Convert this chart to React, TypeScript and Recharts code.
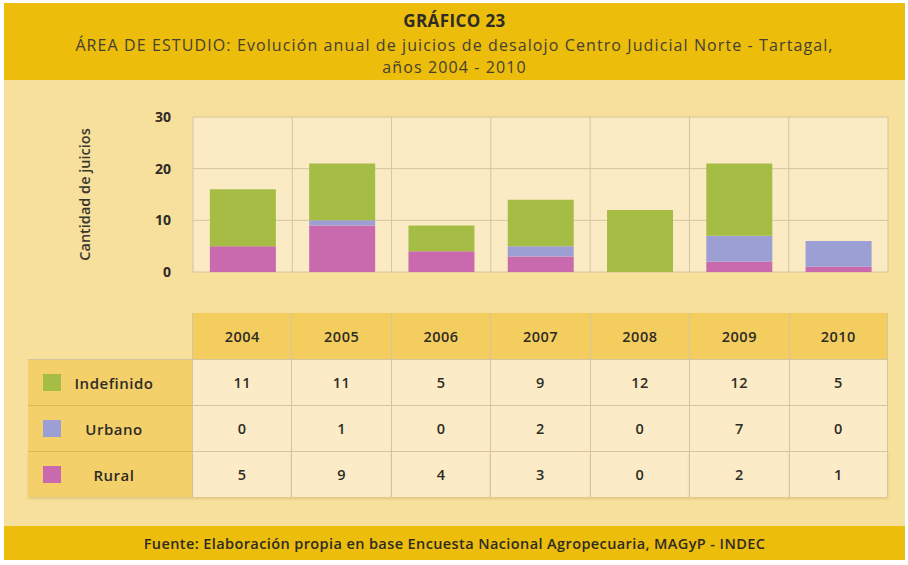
import { Bar, BarChart, CartesianGrid, Label, XAxis, YAxis } from "recharts";

const years = ["2004", "2005", "2006", "2007", "2008", "2009", "2010"];

// values printed in the table
const indefinido = [11, 11, 5, 9, 12, 12, 5];
const urbano = [0, 1, 0, 2, 0, 7, 0];
const rural = [5, 9, 4, 3, 0, 2, 1];

// segments as drawn in the printed bars (2009 and 2010 differ from the table)
const barIndefinido = [11, 11, 5, 9, 12, 14, 0];
const barUrbano = [0, 1, 0, 2, 0, 5, 5];
const barRural = [5, 9, 4, 3, 0, 2, 1];

const yTicks = [0, 10, 20, 30];

const GREEN = "#a6bd45";
const BLUE = "#9c9fd3";
const PINK = "#c96aae";

const chartData = years.map((year, i) => ({
    year,
    indefinido: barIndefinido[i],
    urbano: barUrbano[i],
    rural: barRural[i],
}));

const tableRows = [
    { name: "Indefinido", color: GREEN, values: indefinido },
    { name: "Urbano", color: BLUE, values: urbano },
    { name: "Rural", color: PINK, values: rural },
];

const font = "'Open Sans', 'Noto Sans', sans-serif";
const lineColor = "#d6c4a0";

export default function App() {
    return (
        <div
            style={{
                position: "absolute",
                left: 0,
                top: 0,
                width: 908,
                height: 565,
                background: "#fff",
                fontFamily: font,
            }}
        >
            <div
                style={{
                    position: "absolute",
                    left: 4,
                    top: 3,
                    width: 901,
                    height: 557,
                    background: "#f7df9c",
                }}
            >
                {/* header band */}
                <div
                    style={{
                        position: "absolute",
                        left: 0,
                        top: 0,
                        width: 901,
                        height: 77,
                        background: "#ecbd0b",
                        textAlign: "center",
                        color: "#454032",
                    }}
                >
                    <div style={{ position: "absolute", top: 6, width: "100%", fontSize: 17, lineHeight: "24px", fontWeight: 700, letterSpacing: 0.4, color: "#2e2b24" }}>
                        GRÁFICO 23
                    </div>
                    <div style={{ position: "absolute", top: 31, width: "100%", fontSize: 16, lineHeight: "22px", letterSpacing: 1.1 }}>
                        ÁREA DE ESTUDIO: Evolución anual de juicios de desalojo Centro Judicial Norte - Tartagal,
                        <br />
                        años 2004 - 2010
                    </div>
                </div>

                {/* footer band */}
                <div
                    style={{
                        position: "absolute",
                        left: 0,
                        top: 523,
                        width: 901,
                        height: 34,
                        background: "#ecbd0b",
                        textAlign: "center",
                        lineHeight: "36px",
                        fontSize: 14.5,
                        fontWeight: 600,
                        letterSpacing: 0.4,
                        color: "#2e2b24",
                    }}
                >
                    Fuente: Elaboración propia en base Encuesta Nacional Agropecuaria, MAGyP - INDEC
                </div>
            </div>

            {/* chart */}
            <div style={{ position: "absolute", left: 0, top: 100 }}>
                <BarChart
                    width={908}
                    height={185}
                    data={chartData}
                    margin={{ top: 17, right: 20, left: 0, bottom: 13 }}
                    barCategoryGap="17%"
                >
                    <CartesianGrid
                        stroke={lineColor}
                        fill="#faebc4"
                        fillOpacity={1}
                        verticalCoordinatesGenerator={({ offset }: any) =>
                            [...years, ""].map((_, i) => offset.left + (i * offset.width) / years.length)
                        }
                    />
                    <XAxis dataKey="year" hide />
                    <YAxis
                        width={193}
                        domain={[0, 30]}
                        ticks={yTicks}
                        axisLine={false}
                        tickLine={false}
                        tickMargin={16}
                        tick={{ fill: "#2e2b24", fontSize: 14, fontWeight: 700, fontFamily: font }}
                    >
                        <Label
                            value="Cantidad de juicios"
                            angle={-90}
                            position="center"
                            dx={-12}
                            style={{ fill: "#3a372e", fontSize: 14.5, fontWeight: 600, fontFamily: font, textAnchor: "middle" }}
                        />
                    </YAxis>
                    <Bar dataKey="rural" stackId="a" fill={PINK} isAnimationActive={false} />
                    <Bar dataKey="urbano" stackId="a" fill={BLUE} isAnimationActive={false} />
                    <Bar dataKey="indefinido" stackId="a" fill={GREEN} isAnimationActive={false} />
                </BarChart>
            </div>

            {/* data table */}
            <div
                style={{
                    position: "absolute",
                    left: 28,
                    top: 313,
                    width: 860,
                    display: "grid",
                    gridTemplateColumns: "164px repeat(7, 1fr)",
                    gridAutoRows: "46px",
                    fontSize: 14.5,
                    fontWeight: 600,
                    letterSpacing: 0.5,
                    color: "#2e2b24",
                }}
            >
                <div />
                {years.map((y, i) => (
                    <div
                        key={y}
                        style={{
                            background: "#f4cd5f",
                            display: "flex",
                            alignItems: "center",
                            justifyContent: "center",
                            borderLeft: `1px solid ${lineColor}`,
                            borderRight: i === years.length - 1 ? `1px solid ${lineColor}` : undefined,
                        }}
                    >
                        {y}
                    </div>
                ))}
                {tableRows.map((row, r) => (
                    <>
                        <div
                            key={row.name}
                            style={{
                                background: "#f4d06b",
                                position: "relative",
                                borderTop: r === 0 ? `1px solid ${lineColor}` : `1px solid #d9b95c`,
                                boxShadow: r === 2 ? "0 2px 2px rgba(190,160,90,0.35)" : undefined,
                            }}
                        >
                            <div
                                style={{
                                    position: "absolute",
                                    left: 15,
                                    top: 14,
                                    width: 18,
                                    height: 17,
                                    background: row.color,
                                }}
                            />
                            <div
                                style={{
                                    position: "absolute",
                                    left: 38,
                                    right: 30,
                                    top: 0,
                                    bottom: 0,
                                    display: "flex",
                                    alignItems: "center",
                                    justifyContent: "center",
                                    fontSize: 15,
                                }}
                            >
                                {row.name}
                            </div>
                        </div>
                        {row.values.map((v, i) => (
                            <div
                                key={row.name + i}
                                style={{
                                    background: "#fbebc6",
                                    display: "flex",
                                    alignItems: "center",
                                    justifyContent: "center",
                                    borderLeft: `1px solid ${lineColor}`,
                                    borderTop: `1px solid ${lineColor}`,
                                    borderRight: i === years.length - 1 ? `1px solid ${lineColor}` : undefined,
                                    boxShadow: r === 2 ? "0 2px 2px rgba(190,160,90,0.35)" : undefined,
                                }}
                            >
                                {v}
                            </div>
                        ))}
                    </>
                ))}
            </div>
        </div>
    );
}
